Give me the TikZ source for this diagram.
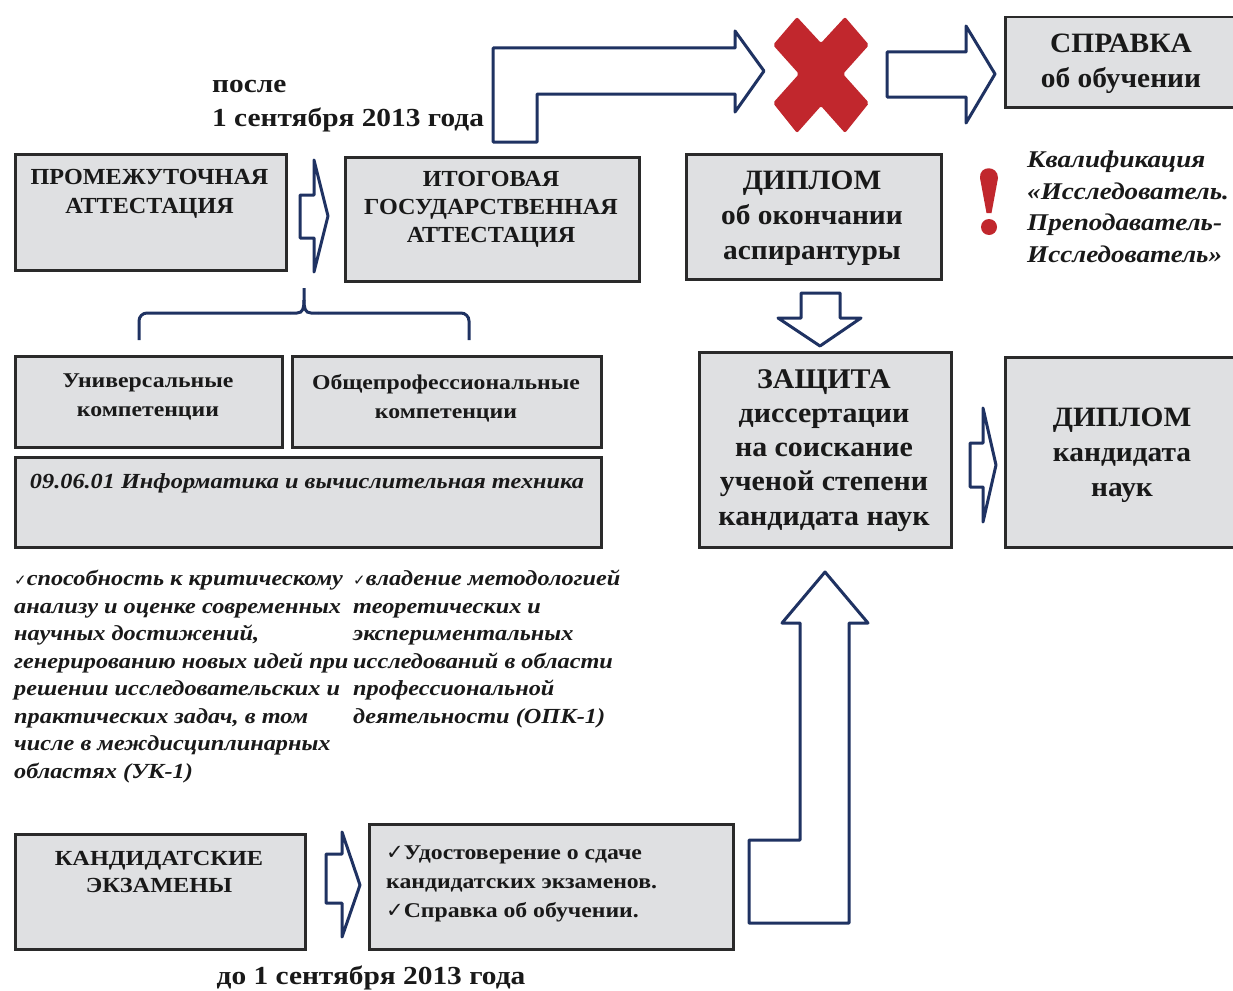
\documentclass[tikz,border=0pt]{standalone}
\usepackage{fontspec}
\setmainfont[FakeStretch=1.05]{Liberation Serif}
\newfontfamily\wide[FakeStretch=1.13]{Liberation Serif}
\newfontfamily\dejavu{DejaVu Sans}
\definecolor{boxfill}{HTML}{DFE0E2}
\definecolor{boxline}{HTML}{2A2A2A}
\definecolor{navy}{HTML}{1F3262}
\definecolor{xred}{HTML}{C1272D}
\newcommand{\fs}[2]{\fontsize{#1}{#2}\selectfont}
\newcommand{\chk}{{\dejavu ✓}}
\newcommand{\smchk}{{\dejavu\fs{15}{15}✓}}
\begin{document}
\begin{tikzpicture}[x=1pt,y=-1pt,
  box/.style={draw=boxline, line width=2.5pt, fill=boxfill, inner sep=0pt, anchor=north west},
  txt/.style={inner sep=0pt, align=center, text=black!90, font=\bfseries},
  blockarrow/.style={draw=navy, line width=3pt, line join=round, fill=white},
  brace/.style={draw=navy, line width=3pt},
  redmark/.style={fill=xred}]
\useasboundingbox[fill=white] (0,0) rectangle (1233,990);

% boxes
\node[box, minimum width=271pt, minimum height=116pt] (prom) at (14,153) {};
\node[box, minimum width=294pt, minimum height=124pt] (itog) at (344,156) {};
\node[box, minimum width=255pt, minimum height=125pt] (dipl1) at (685,153) {};
\node[box, minimum width=240pt, minimum height=90pt] (sprav) at (1004,16) {};
\node[box, minimum width=267pt, minimum height=91pt] (univ) at (14,355) {};
\node[box, minimum width=309pt, minimum height=91pt] (obsh) at (291,355) {};
\node[box, minimum width=586pt, minimum height=90pt] (inf) at (14,456) {};
\node[box, minimum width=252pt, minimum height=195pt] (zash) at (698,351) {};
\node[box, minimum width=240pt, minimum height=190pt] (dipl2) at (1004,356) {};
\node[box, minimum width=290pt, minimum height=115pt] (kand) at (14,833) {};
\node[box, minimum width=364pt, minimum height=125pt] (udost) at (368,823) {};

% box texts
\node[txt, anchor=north, font=\bfseries\fs{23}{29}] (promT) at (149.5,169) {ПРОМЕЖУТОЧНАЯ\\АТТЕСТАЦИЯ};
\node[txt, anchor=north, font=\bfseries\fs{23}{28}] (itogT) at (491,171) {ИТОГОВАЯ\\ГОСУДАРСТВЕННАЯ\\АТТЕСТАЦИЯ};
\node[txt, anchor=north, font=\bfseries\fs{28}{35}] (dipl1T) at (812,171) {ДИПЛОМ\\об окончании\\аспирантуры};
\node[txt, anchor=north, font=\bfseries\fs{28}{35}] (spravT) at (1121,34) {СПРАВКА\\об обучении};
\node[txt, anchor=north, font=\wide\bfseries\fs{21}{29}] (univT) at (148,374) {Универсальные\\компетенции};
\node[txt, anchor=north, font=\wide\bfseries\fs{21}{29}] (obshT) at (446,374) {Общепрофессиональные\\компетенции};
\node[txt, anchor=base, font=\wide\bfseries\itshape\fs{21.5}{27}] (infT) at (307,488) {09.06.01 Информатика и вычислительная техника};
\node[txt, anchor=north, font=\bfseries\fs{28.5}{34.3}] (zashT) at (824,369) {ЗАЩИТА\\диссертации\\на соискание\\ученой степени\\кандидата наук};
\node[txt, anchor=north, font=\bfseries\fs{28}{35}] (dipl2T) at (1122,407.5) {ДИПЛОМ\\кандидата\\наук};
\node[txt, anchor=north, font=\wide\bfseries\fs{21.5}{27}] (kandT) at (159,851.5) {КАНДИДАТСКИЕ\\ЭКЗАМЕНЫ};
\node[txt, anchor=north west, align=left, font=\wide\bfseries\fs{21}{29}] (udostT) at (386,845.5) {\chk Удостоверение о сдаче\\кандидатских экзаменов.\\\chk Справка об обучении.};

% free texts
\node[txt, anchor=north west, align=left, font=\wide\bfseries\fs{26}{34}] (posle) at (212,80.5) {после\\1 сентября 2013 года};
\node[txt, anchor=base, font=\wide\bfseries\fs{26}{34}] (do) at (371,984) {до 1 сентября 2013 года};
\node[txt, anchor=north west, align=left, font=\wide\bfseries\itshape\fs{24}{31.5}] (kval) at (1027,151) {Квалификация\\«Исследователь.\\Преподаватель-\\Исследователь»};
\node[txt, anchor=north west, align=left, font=\wide\bfseries\itshape\fs{21.5}{27.5}] (uk) at (14,570) {\smchk способность к критическому\\анализу и оценке современных\\научных достижений,\\генерированию новых идей при\\решении исследовательских и\\практических задач, в том\\числе в междисциплинарных\\областях (УК-1)};
\node[txt, anchor=north west, align=left, font=\wide\bfseries\itshape\fs{21.5}{27.5}] (opk) at (353,570) {\smchk владение методологией\\теоретических и\\экспериментальных\\исследований в области\\профессиональной\\деятельности (ОПК-1)};

% block arrows
\draw[blockarrow] (300,195) -- (314,195) -- (314,160) -- (328,216) -- (314,272) -- (314,238) -- (300,238) -- cycle;
\draw[blockarrow] (493,142) -- (493,48) -- (735,48) -- (735,31) -- (764,71) -- (735,112) -- (735,94) -- (537,94) -- (537,142) -- cycle;
\draw[blockarrow] (887,52) -- (966,52) -- (966,26) -- (995,74) -- (966,123) -- (966,97) -- (887,97) -- cycle;
\draw[blockarrow] (801,293) -- (840,293) -- (840,318) -- (861,318) -- (820,346) -- (778,318) -- (801,318) -- cycle;
\draw[blockarrow] (970,443) -- (983,443) -- (983,408) -- (996,465) -- (983,522) -- (983,487) -- (970,487) -- cycle;
\draw[blockarrow] (825,572) -- (868,623) -- (849,623) -- (849,923) -- (749,923) -- (749,840) -- (800,840) -- (800,623) -- (782,623) -- cycle;
\draw[blockarrow] (326,854) -- (342,854) -- (342,832) -- (360,885) -- (342,937) -- (342,903) -- (326,903) -- cycle;

% brace
\draw[brace, rounded corners=8pt] (139,340) -- (139,313) -- (290,313);
\draw[brace] (290,313) -- (297,313) .. controls (303,313) and (304,308) .. (304,300) -- (304,288);
\draw[brace] (304,300) .. controls (304,308) and (305,313) .. (311,313) -- (318,313);
\draw[brace, rounded corners=8pt] (318,313) -- (469,313) -- (469,340);

% red cross
\fill[redmark, rounded corners=2pt] (773,45) -- (797,17) -- (821,43) -- (845,17) -- (869,45) -- (843,74) -- (869,103) -- (845,133) -- (821,106) -- (797,133) -- (773,103) -- (799,74) -- cycle;

% exclamation mark
\fill[redmark] (980,178) .. controls (979,165) and (998,165) .. (998,178) -- (991.5,213) -- (986.5,213) -- cycle;
\fill[redmark] (989,227) circle (8pt);
\end{tikzpicture}
\end{document}
